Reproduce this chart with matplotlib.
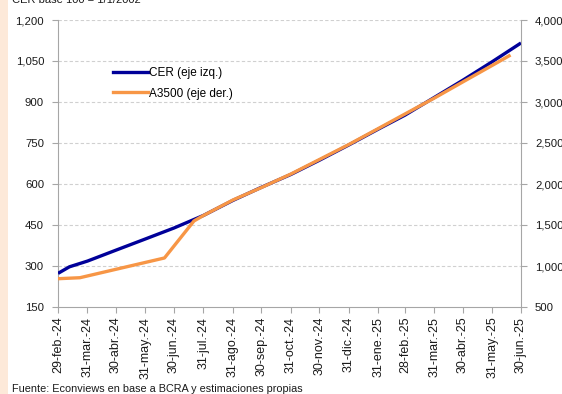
import matplotlib
matplotlib.use("Agg")
import matplotlib.pyplot as plt
from matplotlib.patches import Rectangle
from matplotlib.lines import Line2D
from matplotlib.ticker import FuncFormatter
import pandas as pd

plt.rcParams['font.family'] = ['Liberation Sans', 'DejaVu Sans']

# ---- data ----
cer_dates = ["2024-02-29", "2024-03-12", "2024-03-31", "2024-04-30", "2024-05-31",
             "2024-06-30", "2024-07-31", "2024-08-31", "2024-09-30", "2024-10-31",
             "2024-11-30", "2024-12-31", "2025-01-31", "2025-02-28", "2025-03-31",
             "2025-04-30", "2025-05-31", "2025-06-30"]
cer_values = [273, 297, 318, 358, 399, 439, 485, 540, 588, 635, 687, 743, 801,
              852, 917, 980, 1048, 1116]

a3500_dates = ["2024-02-29", "2024-03-23", "2024-06-20", "2024-07-21", "2024-07-31",
               "2024-08-31", "2024-09-30", "2024-10-31", "2024-11-30", "2024-12-31",
               "2025-01-31", "2025-02-28", "2025-03-31", "2025-04-30", "2025-05-31",
               "2025-06-19"]
a3500_values = [845, 857, 1098, 1549, 1616, 1805, 1957, 2122, 2299, 2482, 2677,
                2854, 3049, 3246, 3448, 3573]

tick_dates = ["2024-02-29", "2024-03-31", "2024-04-30", "2024-05-31", "2024-06-30",
              "2024-07-31", "2024-08-31", "2024-09-30", "2024-10-31", "2024-11-30",
              "2024-12-31", "2025-01-31", "2025-02-28", "2025-03-31", "2025-04-30",
              "2025-05-31", "2025-06-30"]
tick_labels = ["29-feb.-24", "31-mar.-24", "30-abr.-24", "31-may.-24", "30-jun.-24",
               "31-jul.-24", "31-ago.-24", "30-sep.-24", "31-oct.-24", "30-nov.-24",
               "31-dic.-24", "31-ene.-25", "28-feb.-25", "31-mar.-25", "30-abr.-25",
               "31-may.-25", "30-jun.-25"]

left_ticks = [150, 300, 450, 600, 750, 900, 1050, 1200]
right_ticks = [500, 1000, 1500, 2000, 2500, 3000, 3500, 4000]

# ---- figure ----
W, H = 562, 394
fig = plt.figure(figsize=(W / 100, H / 100), dpi=100)
fig.patches.append(Rectangle((0, 0), 8 / W, 1, transform=fig.transFigure,
                             facecolor='#fde9d9', edgecolor='none', zorder=0))

L, R, T, B = 58, 521, 20, 307
ax = fig.add_axes([L / W, 1 - B / H, (R - L) / W, (B - T) / H])
ax2 = ax.twinx()

blue = '#000099'
orange = '#f79646'
grey = '#a6a6a6'
txt = '#1a1a1a'

xd_cer = pd.to_datetime(cer_dates)
xd_a = pd.to_datetime(a3500_dates)
ax.plot(xd_cer, cer_values, color=blue, lw=2.4, solid_capstyle='butt', zorder=3)
ax2.plot(xd_a, a3500_values, color=orange, lw=2.4, solid_capstyle='butt', zorder=3)

ax.set_xlim(pd.Timestamp(tick_dates[0]), pd.Timestamp(tick_dates[-1]))
ax.set_ylim(left_ticks[0], left_ticks[-1])
ax2.set_ylim(right_ticks[0], right_ticks[-1])

ax.set_xticks(pd.to_datetime(tick_dates))
ax.set_xticklabels(tick_labels, rotation=90)
ax.set_yticks(left_ticks)
ax2.set_yticks(right_ticks)
fmt = FuncFormatter(lambda v, p: f"{int(v):,}")
ax.yaxis.set_major_formatter(fmt)
ax2.yaxis.set_major_formatter(fmt)

for a in (ax, ax2):
    for s in a.spines.values():
        s.set_visible(False)
    a.tick_params(axis='both', colors=grey, labelcolor=txt, labelsize=8.2,
                  length=4, width=0.8, direction='out')
ax.tick_params(axis='x', labelsize=9, pad=3)
ax.spines['left'].set_visible(True)
ax.spines['left'].set_color(grey)
ax.spines['bottom'].set_visible(True)
ax.spines['bottom'].set_color(grey)
ax2.spines['right'].set_visible(True)
ax2.spines['right'].set_color(grey)
ax.tick_params(axis='y', pad=6)
ax2.tick_params(axis='y', pad=6)

for v in left_ticks[1:]:
    ax.axhline(v, color='#d0d0d0', lw=0.8, ls=(0, (3, 2)), zorder=1)

handles = [Line2D([], [], color=blue, lw=2.4), Line2D([], [], color=orange, lw=2.4)]
leg = ax2.legend(handles, ["CER (eje izq.)", "A3500 (eje der.)"],
                 loc='upper left', bbox_to_anchor=(108 / W, 1 - 62 / H),
                 bbox_transform=fig.transFigure, frameon=False, fontsize=8.5,
                 handlelength=3.0, handletextpad=0.1, labelspacing=0.75,
                 borderaxespad=0)

fig.text(12 / W, 1 - 3 / H, "CER base 100 = 1/1/2002", fontsize=8, color=txt,
         ha='left', va='baseline')
fig.text(12 / W, 1.5 / H, "Fuente: Econviews en base a BCRA y estimaciones propias",
         fontsize=7.8, color=txt, ha='left', va='baseline')

fig.savefig("out.png", dpi=100)
